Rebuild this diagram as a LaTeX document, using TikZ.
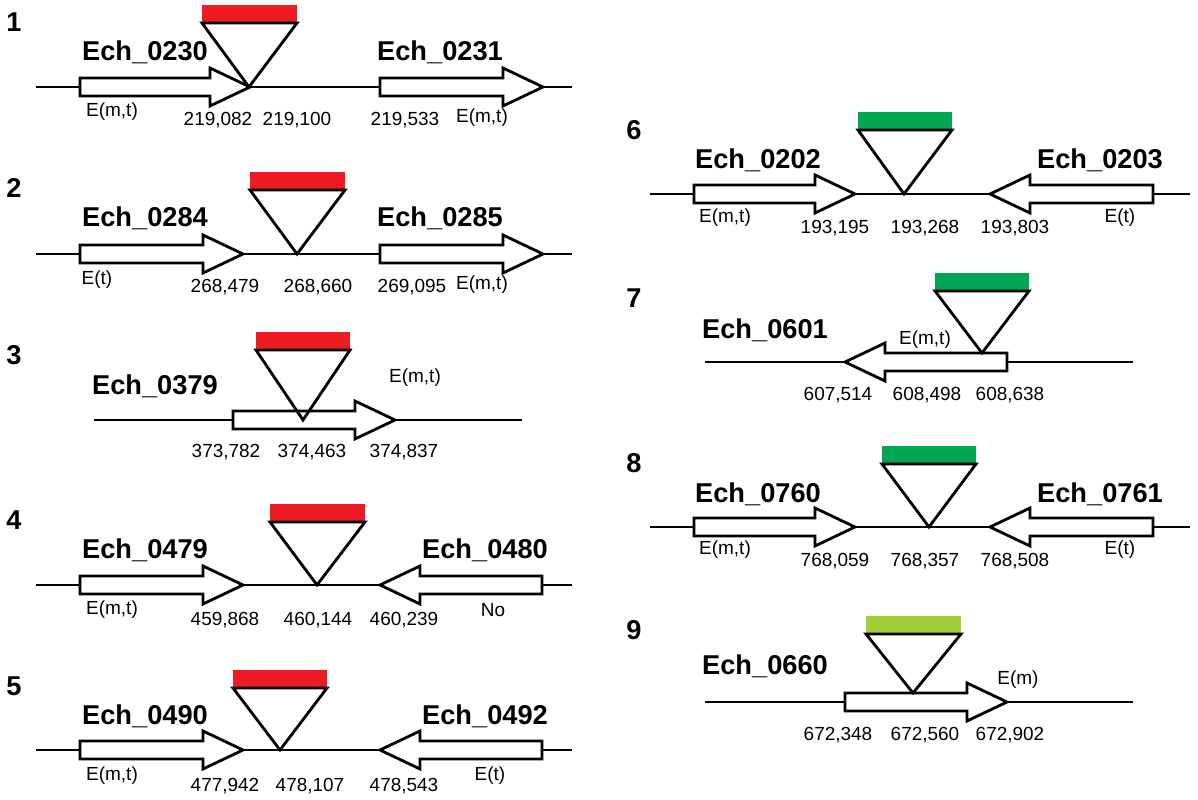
\documentclass[tikz,border=0pt]{standalone}
\usepackage{fontspec}
\setmainfont{Liberation Sans}
\definecolor{ired}{RGB}{237,28,36}
\definecolor{igreen}{RGB}{0,166,81}
\definecolor{ilime}{RGB}{164,206,57}
% gene arrows: tail, head base, tip, baseline
\newcommand{\rgene}[4]{\draw[gene] (#1,#4-9) -- (#2,#4-9) -- (#2,#4-19) -- (#3,#4) -- (#2,#4+19) -- (#2,#4+9) -- (#1,#4+9) -- cycle;}
% insertion: bar left, bar right, bar top, apex x, apex y, colour
\newcommand{\insrt}[6]{\fill[#6] (#1,#3) rectangle (#2,#3+18);
\draw[line width=1.6pt,line join=miter] (#1,#3+18) -- (#4,#5) -- (#2,#3+18) -- cycle;}
\begin{document}
\begin{tikzpicture}[x=0.02cm,y=-0.02cm,
  gene/.style={draw=black,fill=white,line width=1.6pt,line join=miter},
  base/.style={line width=1.6pt},
  gname/.style={font=\fontsize{15.5}{17}\selectfont\bfseries},
  pnum/.style={font=\fontsize{15.5}{17}\selectfont\bfseries},
  small/.style={font=\fontsize{10.8}{12}\selectfont}]
\useasboundingbox (0,0) rectangle (1198,800);
% panel 1
\draw[base] (36,87) -- (572,87);
\rgene{80}{210}{250}{87}
\rgene{380}{503}{543}{87}
\insrt{202}{297}{5}{249}{87}{ired}
\node[pnum] (p1) at (14,22) {1};
\node[gname] (g0230) at (145,52) {Ech\_0230};
\node[gname] (g0231) at (440,52) {Ech\_0231};
\node[small] at (112,112) {E(m,t)};
\node[small] at (482,118) {E(m,t)};
\node[small] at (218,120) {219,082};
\node[small] at (297,120) {219,100};
\node[small] at (405,120) {219,533};
% panel 2
\draw[base] (36,254) -- (572,254);
\rgene{80}{203}{243}{254}
\rgene{380}{503}{543}{254}
\insrt{250}{345}{172}{297}{254}{ired}
\node[pnum] (p2) at (14,188) {2};
\node[gname] (g0284) at (145,218) {Ech\_0284};
\node[gname] (g0285) at (440,218) {Ech\_0285};
\node[small] at (97,280) {E(t)};
\node[small] at (482,285) {E(m,t)};
\node[small] at (225,287) {268,479};
\node[small] at (318,287) {268,660};
\node[small] at (412,287) {269,095};
% panel 3
\draw[base] (94,420) -- (522,420);
\rgene{233}{355}{395}{420}
\insrt{256}{350}{332}{303}{420}{ired}
\node[pnum] (p3) at (14,355) {3};
\node[gname] (g0379) at (155,386) {Ech\_0379};
\node[small] at (415,378) {E(m,t)};
\node[small] at (226,452) {373,782};
\node[small] at (312,452) {374,463};
\node[small] at (404,452) {374,837};
% panel 4
\draw[base] (36,585) -- (572,585);
\rgene{80}{203}{243}{585}
\rgene{542}{420}{380}{585}
\insrt{270}{365}{504}{317}{585}{ired}
\node[pnum] (p4) at (14,520) {4};
\node[gname] (g0479) at (145,550) {Ech\_0479};
\node[gname] (g0480) at (485,550) {Ech\_0480};
\node[small] at (112,610) {E(m,t)};
\node[small] at (493,610) {No};
\node[small] at (225,620) {459,868};
\node[small] at (318,620) {460,144};
\node[small] at (404,620) {460,239};
% panel 5
\draw[base] (36,750) -- (572,750);
\rgene{80}{203}{243}{750}
\rgene{542}{420}{380}{750}
\insrt{233}{327}{670}{280}{750}{ired}
\node[pnum] (p5) at (14,686) {5};
\node[gname] (g0490) at (145,716) {Ech\_0490};
\node[gname] (g0492) at (485,716) {Ech\_0492};
\node[small] at (112,776) {E(m,t)};
\node[small] at (490,776) {E(t)};
\node[small] at (225,786) {477,942};
\node[small] at (310,786) {478,107};
\node[small] at (404,786) {478,543};
% panel 6
\draw[base] (650,194) -- (1190,194);
\rgene{694}{815}{855}{194}
\rgene{1153}{1030}{990}{194}
\insrt{858}{952}{112}{904}{194}{igreen}
\node[pnum] (p6) at (634,130) {6};
\node[gname] (g0202) at (758,160) {Ech\_0202};
\node[gname] (g0203) at (1100,160) {Ech\_0203};
\node[small] at (725,218) {E(m,t)};
\node[small] at (1120,218) {E(t)};
\node[small] at (835,228) {193,195};
\node[small] at (925,228) {193,268};
\node[small] at (1015,228) {193,803};
% panel 7
\draw[base] (705,362) -- (1133,362);
\rgene{1007}{885}{845}{362}
\insrt{935}{1029}{273}{982}{353}{igreen}
\node[pnum] (p7) at (634,298) {7};
\node[gname] (g0601) at (765,330) {Ech\_0601};
\node[small] at (925,340) {E(m,t)};
\node[small] at (838,395) {607,514};
\node[small] at (927,395) {608,498};
\node[small] at (1010,395) {608,638};
% panel 8
\draw[base] (650,527) -- (1190,527);
\rgene{694}{815}{855}{527}
\rgene{1153}{1030}{990}{527}
\insrt{882}{976}{446}{929}{527}{igreen}
\node[pnum] (p8) at (634,463) {8};
\node[gname] (g0760) at (758,494) {Ech\_0760};
\node[gname] (g0761) at (1100,494) {Ech\_0761};
\node[small] at (725,550) {E(m,t)};
\node[small] at (1120,550) {E(t)};
\node[small] at (835,561) {768,059};
\node[small] at (925,561) {768,357};
\node[small] at (1015,561) {768,508};
% panel 9
\draw[base] (705,702) -- (1133,702);
\rgene{845}{967}{1007}{702}
\insrt{866}{961}{616}{913}{693}{ilime}
\node[pnum] (p9) at (634,630) {9};
\node[gname] (g0660) at (765,666) {Ech\_0660};
\node[small] at (1018,680) {E(m)};
\node[small] at (838,735) {672,348};
\node[small] at (925,735) {672,560};
\node[small] at (1010,735) {672,902};
\end{tikzpicture}
\end{document}
